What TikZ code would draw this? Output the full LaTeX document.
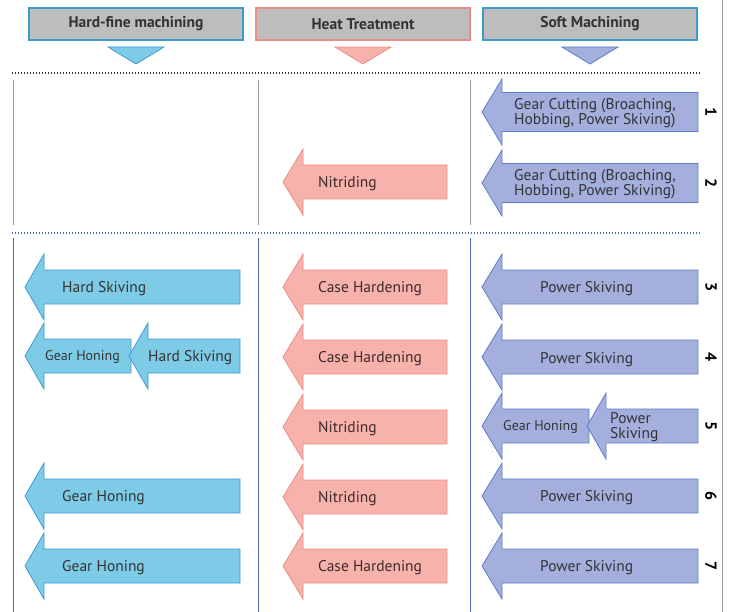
\documentclass[tikz,border=0pt]{standalone}
\usepackage{fontspec}
\setmainfont{PT Sans}
\definecolor{hardfill}{HTML}{7DCBE6}
\definecolor{harddraw}{HTML}{3E9BD2}
\definecolor{heatfill}{HTML}{F6B2AB}
\definecolor{heatdraw}{HTML}{EC8C86}
\definecolor{softfill}{HTML}{A4AFDD}
\definecolor{softdraw}{HTML}{5B7CC6}
\definecolor{headfill}{HTML}{BDBDBD}
\definecolor{txt}{HTML}{333333}
\definecolor{heattxt}{HTML}{3E2A2A}
\definecolor{sepgray}{HTML}{9A9A9A}
\definecolor{sepblue}{HTML}{4A6FB8}
\newcommand\procarrow[7]{%
  \draw[#2] (#3,#6) -- (#4,#6-33) -- (#4,#6-#7) -- (#5,#6-#7) -- (#5,#6+#7)
    -- (#4,#6+#7) -- (#4,#6+33) -- cycle;}
\begin{document}
\begin{tikzpicture}[x=1pt,y=-1pt,
  hardarrow/.style={fill=hardfill,draw=harddraw,line width=0.8pt,line join=miter},
  heatarrow/.style={fill=heatfill,draw=heatdraw,line width=0.8pt,line join=miter},
  softarrow/.style={fill=softfill,draw=softdraw,line width=0.8pt,line join=miter},
  lab/.style={anchor=west,inner sep=0pt,yshift=-1.5pt,text=txt,font=\fontsize{15.5}{16}\selectfont},
  heatlab/.style={lab,text=heattxt},
  smalllab/.style={anchor=west,inner sep=0pt,yshift=-1pt,text=txt,font=\fontsize{14}{15}\selectfont},
  twolab/.style={anchor=west,inner sep=0pt,yshift=-1pt,text=txt,align=left,font=\fontsize{15.5}{15}\selectfont},
  headbox/.style={fill=headfill,line width=1.3pt,minimum width=214pt,minimum height=32pt,inner sep=0pt,text=txt,font=\bfseries\fontsize{15.5}{16}\selectfont},
  num/.style={rotate=-90,inner sep=0pt,text=black,font=\bfseries\fontsize{16}{16}\selectfont},
  dotline/.style={line width=1.3pt,dash pattern=on 1.3pt off 1.7pt}]
\useasboundingbox (0,0) rectangle (730,612);
% headers
\node[headbox,draw=harddraw] (h1) at (136,24) {Hard-fine machining};
\node[headbox,draw=heatdraw] (h2) at (363,24) {Heat Treatment};
\node[headbox,draw=harddraw] (h3) at (590,24) {Soft Machining};
\draw[fill=hardfill,draw=harddraw,line width=0.8pt] (108,47) -- (164,47) -- (136,64) -- cycle;
\draw[fill=heatfill,draw=heatdraw,line width=0.8pt] (335,47) -- (391,47) -- (363,64) -- cycle;
\draw[fill=softfill,draw=softdraw,line width=0.8pt] (562,47) -- (618,47) -- (590,64) -- cycle;
% separators
\draw[sepgray,line width=1pt] (722,0) -- (722,612);
\draw[dotline,black!80] (12,73) -- (700,73);
\draw[dotline,sepblue] (12,233) -- (700,233);
\foreach \x in {13,258,470}{
  \draw[sepgray,line width=1pt] (\x,80) -- (\x,225);
  \draw[sepblue,line width=1pt] (\x,238) -- (\x,612);
}
% row 1
\procarrow{a1s}{softarrow}{482}{502}{698}{112}{19.5}
\node[twolab] (t1s) at (514,112) {Gear Cutting (Broaching,\\Hobbing, Power Skiving)};
\node[num] (n1) at (711,112) {1};
% row 2
\procarrow{a2h}{heatarrow}{283}{303}{447}{182}{17}
\node[heatlab] (t2h) at (318,182) {Nitriding};
\procarrow{a2s}{softarrow}{482}{502}{698}{183}{19.5}
\node[twolab] (t2s) at (514,183) {Gear Cutting (Broaching,\\Hobbing, Power Skiving)};
\node[num] (n2) at (711,183) {2};
% row 3
\procarrow{a3f}{hardarrow}{25}{44}{240}{287}{17}
\node[lab] (t3f) at (62,287) {Hard Skiving};
\procarrow{a3h}{heatarrow}{283}{303}{447}{287}{17}
\node[heatlab] (t3h) at (318,287) {Case Hardening};
\procarrow{a3s}{softarrow}{482}{502}{698}{287}{17}
\node[lab] (t3s) at (540,287) {Power Skiving};
\node[num] (n3) at (711,287) {3};
% row 4
\procarrow{a4f1}{hardarrow}{25}{44}{131}{356}{17}
\node[smalllab] (t4f1) at (45,356) {Gear Honing};
\procarrow{a4f2}{hardarrow}{129}{148}{240}{356}{17}
\node[lab] (t4f2) at (148,356) {Hard Skiving};
\procarrow{a4h}{heatarrow}{283}{303}{447}{357}{17}
\node[heatlab] (t4h) at (318,357) {Case Hardening};
\procarrow{a4s}{softarrow}{482}{502}{698}{357}{17}
\node[lab] (t4s) at (540,358) {Power Skiving};
\node[num] (n4) at (711,357) {4};
% row 5
\procarrow{a5h}{heatarrow}{283}{303}{447}{427}{17}
\node[heatlab] (t5h) at (318,427) {Nitriding};
\procarrow{a5s1}{softarrow}{482}{502}{589}{426}{17}
\node[smalllab] (t5s1) at (503,426) {Gear Honing};
\procarrow{a5s2}{softarrow}{587}{606}{698}{426}{17}
\node[twolab] (t5s2) at (610,426) {Power\\Skiving};
\node[num] (n5) at (711,426) {5};
% row 6
\procarrow{a6f}{hardarrow}{25}{44}{240}{496}{17}
\node[lab] (t6f) at (62,496) {Gear Honing};
\procarrow{a6h}{heatarrow}{283}{303}{447}{497}{17}
\node[heatlab] (t6h) at (318,497) {Nitriding};
\procarrow{a6s}{softarrow}{482}{502}{698}{496}{17}
\node[lab] (t6s) at (540,496) {Power Skiving};
\node[num] (n6) at (711,496) {6};
% row 7
\procarrow{a7f}{hardarrow}{25}{44}{240}{566}{17}
\node[lab] (t7f) at (62,566) {Gear Honing};
\procarrow{a7h}{heatarrow}{283}{303}{447}{566}{17}
\node[heatlab] (t7h) at (318,566) {Case Hardening};
\procarrow{a7s}{softarrow}{482}{502}{698}{566}{17}
\node[lab] (t7s) at (540,566) {Power Skiving};
\node[num] (n7) at (711,566) {7};
\end{tikzpicture}
\end{document}
